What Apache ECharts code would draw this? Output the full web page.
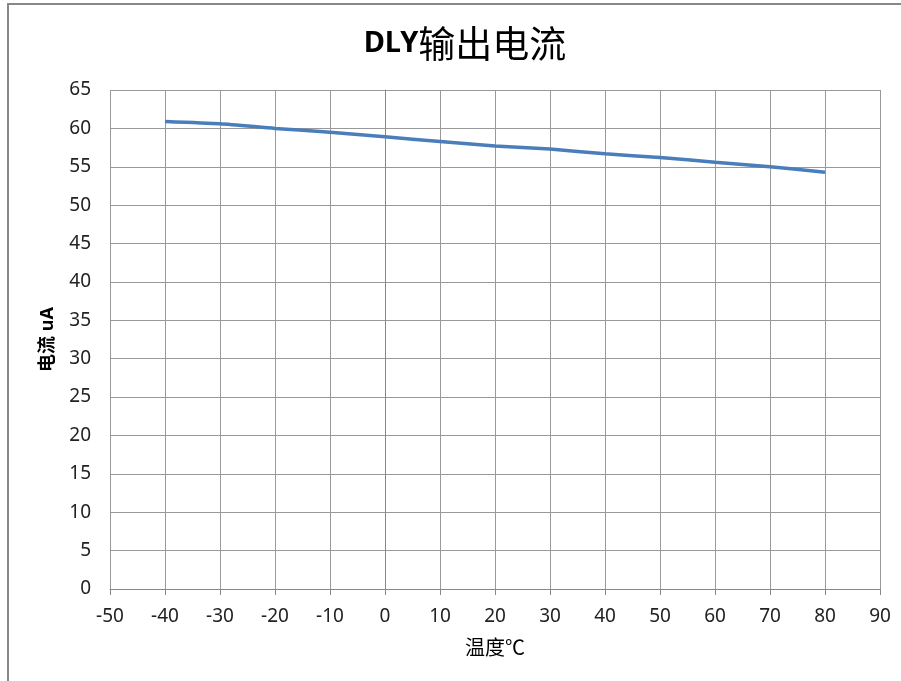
<!DOCTYPE html>
<html><head><meta charset="utf-8">
<script src="https://cdn.jsdelivr.net/npm/echarts@6/dist/echarts.min.js"></script>
<style>html,body{margin:0;padding:0;background:#fff}#c{width:901px;height:681px}</style>
</head><body><div id="c"></div>
<script>
const temps = [-40,-30,-20,-10,0,10,20,30,40,50,60,70,80];
const currents = [60.9,60.6,60.0,59.5,58.9,58.3,57.7,57.3,56.7,56.2,55.6,55.0,54.3];
const titleLatin = 'DLY';
const titleCJK = '输出电流';
const xName = '温度℃';
const yName = '电流 uA';
const font = '"Noto Sans", "Noto Sans CJK SC", sans-serif';
const chart = echarts.init(document.getElementById('c'));
chart.setOption({
  backgroundColor:'#fff',
  animation:false,
  graphic:[{type:'rect',shape:{x:8,y:4,width:900,height:690},style:{fill:'none',stroke:'#888',lineWidth:2},z:-1}],
  title:{text:'{a|'+titleLatin+'}{b|'+titleCJK+'}',left:460,textAlign:'center',top:20,
    textStyle:{rich:{
      a:{fontFamily:font,fontSize:29,fontWeight:'bold',color:'#000'},
      b:{fontFamily:'"Noto Sans CJK SC", sans-serif',fontSize:37,fontWeight:'normal',color:'#000'}}}},
  grid:{left:110,right:21,top:90,bottom:92},
  xAxis:{type:'value',min:-50,max:90,interval:10,name:xName,nameLocation:'middle',nameGap:48,
    nameTextStyle:{fontFamily:'"Noto Sans CJK SC", sans-serif',fontSize:20,color:'#000'},
    axisLine:{lineStyle:{color:'#888'}},axisTick:{show:true,length:6,lineStyle:{color:'#888'}},
    axisLabel:{fontFamily:font,fontSize:19,color:'#222',margin:18},
    splitLine:{show:true,lineStyle:{color:'#999',width:1}}},
  yAxis:{type:'value',min:0,max:65,interval:5,name:yName,nameLocation:'middle',nameGap:53,
    nameTextStyle:{fontFamily:font,fontSize:18,fontWeight:'bold',color:'#000'},
    axisLine:{show:true,lineStyle:{color:'#888'}},axisTick:{show:false},
    axisLabel:{fontFamily:font,fontSize:19,color:'#222',margin:19},
    splitLine:{show:true,lineStyle:{color:'#999',width:1}}},
  series:[{type:'line',data:temps.map((t,i)=>[t,currents[i]]),showSymbol:false,smooth:0.2,
    lineStyle:{color:'#4a7ebb',width:3.5}}]
});
</script></body></html>
